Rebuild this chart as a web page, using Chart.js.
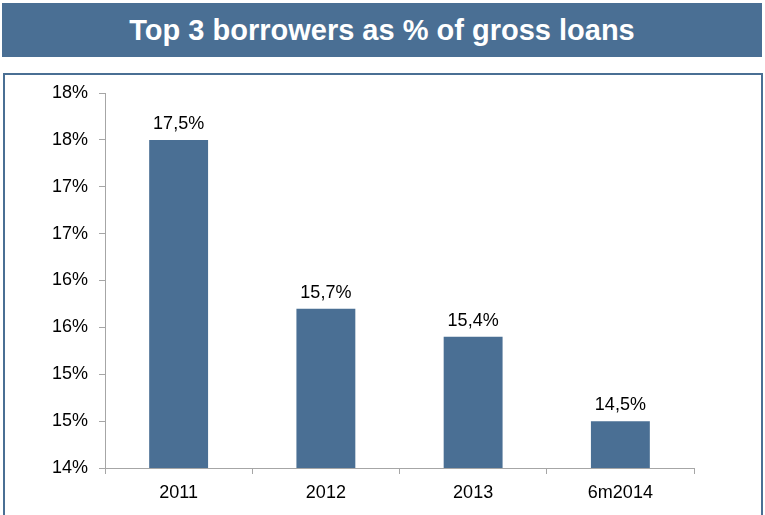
<!DOCTYPE html>
<html>
<head>
<meta charset="utf-8">
<script src="https://cdn.jsdelivr.net/npm/chart.js@4.4.0/dist/chart.umd.min.js"></script>
<style>
  html, body { margin: 0; padding: 0; background: #fff; }
  #wrap { position: relative; width: 765px; height: 515px; overflow: hidden; }
  #title {
    position: absolute; left: 2px; top: 3px; width: 760px; height: 54px;
    background: #4a6f94; color: #fff; text-align: center;
    font: bold 29px "Liberation Sans", Arial, sans-serif; line-height: 54px;
  }
  #box {
    position: absolute; left: 3px; top: 73px; width: 756px; height: 460px;
    border: 2px solid #4a6f94;
  }
  #chart { position: absolute; left: 0; top: 0; }
</style>
</head>
<body>
<div id="wrap">
  <div id="title">Top 3 borrowers as % of gross loans</div>
  <div id="box"></div>
  <canvas id="chart" width="765" height="515"></canvas>
</div>
<script>
// data
const categories = ['2011', '2012', '2013', '6m2014'];
const shareValues = [17.5, 15.7, 15.4, 14.5];
const yTickLabels = ['14%', '15%', '15%', '16%', '16%', '17%', '17%', '18%', '18%'];

const barColor = '#4a6f94';
const axisColor = '#a6a6a6';
const font = { family: '"Liberation Sans", Arial, sans-serif', size: 18 };

// values above the bars, comma as decimal mark
const barLabels = {
    id: 'barLabels',
    afterDatasetsDraw(chart) {
        const ctx = chart.ctx;
        const meta = chart.getDatasetMeta(0);
        ctx.save();
        ctx.fillStyle = '#000';
        ctx.font = font.size + 'px ' + font.family;
        ctx.textAlign = 'center';
        ctx.textBaseline = 'alphabetic';
        meta.data.forEach((bar, i) => {
            const txt = shareValues[i].toFixed(1).replace('.', ',') + '%';
            ctx.fillText(txt, bar.x, bar.y - 11);
        });
        ctx.restore();
    }
};

new Chart(document.getElementById('chart'), {
    type: 'bar',
    data: {
        labels: categories,
        datasets: [{
            data: shareValues,
            backgroundColor: barColor,
            borderWidth: 0,
            barPercentage: 0.4,
            categoryPercentage: 1
        }]
    },
    options: {
        responsive: false,
        animation: false,
        devicePixelRatio: 1,
        layout: { padding: { top: 93, right: 71, left: 0, bottom: 0 } },
        plugins: {
            legend: { display: false },
            tooltip: { enabled: false }
        },
        scales: {
            x: {
                afterFit: (s) => { s.height = 47; },
                grid: { drawOnChartArea: false, color: axisColor, tickLength: 6 },
                border: { color: axisColor },
                ticks: { color: '#000', font: font, padding: 8, maxRotation: 0 }
            },
            y: {
                min: 14,
                max: 18,
                afterFit: (s) => { s.width = 105; },
                grid: { drawOnChartArea: false, color: axisColor, tickLength: 6 },
                border: { color: axisColor },
                ticks: {
                    stepSize: 0.5,
                    color: '#000',
                    font: font,
                    padding: 11,
                    callback: (v, i) => yTickLabels[i]
                }
            }
        }
    },
    plugins: [barLabels]
});
</script>
</body>
</html>
